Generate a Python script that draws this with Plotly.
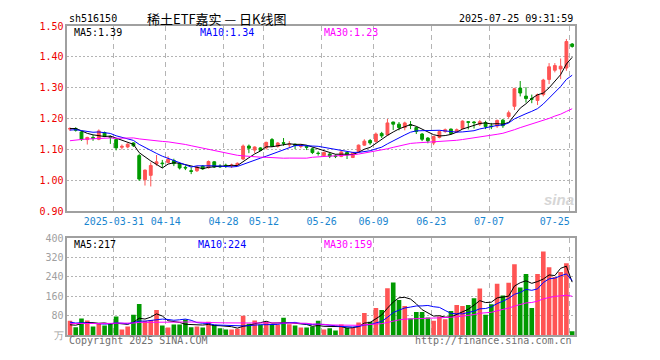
import plotly.graph_objects as go
import pandas as pd

# ---------------- data ----------------
tick_index = [8, 17, 27, 34, 44, 53, 63, 73, 87]
tick_labels = ["2025-03-31", "04-14", "04-28", "05-12", "05-26", "06-09", "06-23", "07-07",
               "07-25" + "\u00a0" * 5]

opens = [1.166, 1.168, 1.157, 1.132, 1.139, 1.133, 1.155, 1.142, 1.132, 1.107,
         1.108, 1.121, 1.080, 1.002, 1.016, 1.053, 1.056, 1.058, 1.064, 1.054,
         1.042, 1.031, 1.031, 1.046, 1.041, 1.060, 1.046, 1.049, 1.047, 1.050,
         1.069, 1.111, 1.098, 1.105, 1.105, 1.132, 1.110, 1.122, 1.115, 1.117,
         1.110, 1.110, 1.102, 1.088, 1.080, 1.085, 1.079, 1.077, 1.090, 1.074,
         1.093, 1.114, 1.129, 1.126, 1.152, 1.147, 1.189, 1.182, 1.171, 1.180,
         1.171, 1.150, 1.137, 1.121, 1.139, 1.158, 1.166, 1.157, 1.168, 1.190,
         1.189, 1.182, 1.187, 1.176, 1.176, 1.195, 1.207, 1.240, 1.299, 1.273,
         1.265, 1.259, 1.278, 1.327, 1.357, 1.361, 1.364, 1.442]
highs = [1.172, 1.172, 1.160, 1.141, 1.147, 1.165, 1.158, 1.145, 1.134, 1.116,
         1.120, 1.123, 1.085, 1.035, 1.058, 1.082, 1.066, 1.078, 1.070, 1.056,
         1.048, 1.042, 1.045, 1.049, 1.064, 1.062, 1.052, 1.054, 1.054, 1.058,
         1.116, 1.116, 1.110, 1.107, 1.125, 1.137, 1.124, 1.137, 1.127, 1.119,
         1.118, 1.114, 1.106, 1.094, 1.093, 1.088, 1.084, 1.095, 1.093, 1.092,
         1.116, 1.133, 1.134, 1.155, 1.157, 1.199, 1.190, 1.189, 1.190, 1.192,
         1.174, 1.153, 1.140, 1.144, 1.162, 1.168, 1.168, 1.168, 1.194, 1.192,
         1.192, 1.196, 1.193, 1.186, 1.197, 1.199, 1.226, 1.300, 1.322, 1.302,
         1.278, 1.281, 1.329, 1.380, 1.380, 1.395, 1.458, 1.445]
lows = [1.160, 1.158, 1.128, 1.116, 1.128, 1.130, 1.140, 1.118, 1.097, 1.100,
        1.104, 1.108, 0.998, 0.983, 0.980, 1.047, 1.040, 1.055, 1.046, 1.035,
        1.033, 1.020, 1.027, 1.034, 1.038, 1.040, 1.040, 1.040, 1.040, 1.047,
        1.066, 1.088, 1.088, 1.095, 1.100, 1.108, 1.106, 1.112, 1.106, 1.101,
        1.104, 1.098, 1.085, 1.080, 1.078, 1.072, 1.072, 1.075, 1.069, 1.072,
        1.090, 1.112, 1.115, 1.122, 1.137, 1.145, 1.163, 1.162, 1.162, 1.166,
        1.150, 1.127, 1.120, 1.114, 1.136, 1.154, 1.148, 1.155, 1.165, 1.165,
        1.168, 1.176, 1.166, 1.166, 1.170, 1.170, 1.200, 1.228, 1.272, 1.252,
        1.250, 1.244, 1.272, 1.312, 1.350, 1.328, 1.355, 1.430]
closes = [1.168, 1.162, 1.132, 1.139, 1.136, 1.160, 1.143, 1.139, 1.105, 1.110,
          1.117, 1.112, 1.004, 1.033, 1.048, 1.060, 1.054, 1.068, 1.054, 1.040,
          1.040, 1.029, 1.043, 1.037, 1.061, 1.043, 1.044, 1.047, 1.049, 1.055,
          1.111, 1.104, 1.108, 1.097, 1.123, 1.111, 1.121, 1.120, 1.117, 1.113,
          1.112, 1.107, 1.090, 1.087, 1.090, 1.078, 1.077, 1.092, 1.082, 1.089,
          1.114, 1.127, 1.121, 1.150, 1.144, 1.186, 1.182, 1.171, 1.186, 1.178,
          1.158, 1.133, 1.128, 1.142, 1.158, 1.164, 1.152, 1.164, 1.192, 1.188,
          1.187, 1.190, 1.174, 1.174, 1.194, 1.177, 1.219, 1.297, 1.283, 1.265,
          1.263, 1.278, 1.325, 1.368, 1.372, 1.370, 1.450, 1.434]
volumes = [60, 33, 69, 61, 36, 47, 40, 47, 77, 24,
           36, 84, 129, 60, 63, 104, 40, 32, 44, 44,
           65, 33, 36, 32, 56, 43, 29, 24, 24, 27,
           80, 47, 61, 43, 56, 43, 43, 72, 45, 40,
           32, 32, 36, 60, 24, 29, 20, 44, 31, 31,
           52, 92, 56, 112, 104, 193, 217, 145, 120, 69,
           96, 96, 73, 60, 77, 66, 100, 124, 120, 124,
           152, 192, 84, 128, 212, 164, 216, 292, 196, 252,
           112, 252, 344, 280, 240, 260, 296, 16]
# estimated closes / volumes of the 29 sessions before the window (feed the moving averages)
pre_closes = [1.08, 1.09, 1.10, 1.11, 1.12, 1.11, 1.13, 1.14,
              1.11, 1.10, 1.09, 1.10, 1.11, 1.12, 1.11, 1.10, 1.11, 1.12, 1.13, 1.14,
              1.15, 1.16, 1.17, 1.16, 1.15, 1.16, 1.17, 1.18, 1.16]
pre_volumes = [40, 52, 38, 47, 55, 43, 36, 50, 44, 48, 39, 46, 53, 41, 45, 49, 42, 44, 50, 38,
               70, 58, 72, 60, 65, 42, 35, 40, 38]

header_code = "sh516150"
header_title = "稀土ETF嘉实 — 日K线图"
header_time = "2025-07-25 09:31:59"
price_ma_texts = ["MA5:1.39", "MA10:1.34", "MA30:1.23"]
vol_ma_texts = ["MA5:217", "MA10:224", "MA30:159"]

# ---------------- derived ----------------
n = len(closes)
idx = list(range(n))
npre = len(pre_closes)
cs = pd.Series(pre_closes + closes)
vs = pd.Series(pre_volumes + volumes)
def ma(s, k):
    return s.rolling(k).mean().iloc[npre:].tolist()

RED = "#ff5454"
GREEN = "#009a00"
MA_COLORS = ["#000000", "#0000ff", "#ff00ff"]
MONO = "DejaVu Sans Mono"
W, H = 660, 360
def fx(x): return x / W
def fy(y): return 1 - y / H

xdom = [fx(70), fx(597.7)]
xrange_ = [-0.45, 87.5]

fig = go.Figure()
fig.add_trace(go.Candlestick(
    x=idx, open=opens, high=highs, low=lows, close=closes,
    increasing=dict(line=dict(color=RED, width=1), fillcolor=RED),
    decreasing=dict(line=dict(color=GREEN, width=1), fillcolor=GREEN),
    whiskerwidth=0, xaxis="x", yaxis="y", hoverinfo="skip"))
for k, c in zip([5, 10, 30], MA_COLORS):
    fig.add_trace(go.Scatter(x=idx, y=ma(cs, k), mode="lines",
                             line=dict(color=c, width=1), xaxis="x", yaxis="y",
                             hoverinfo="skip"))

vcolors = [RED if c >= o else GREEN for o, c in zip(opens, closes)]
fig.add_trace(go.Bar(x=idx, y=volumes, marker=dict(color=vcolors, line=dict(width=0)),
                     width=0.8, xaxis="x2", yaxis="y2", hoverinfo="skip"))
for k, c in zip([5, 10, 30], MA_COLORS):
    fig.add_trace(go.Scatter(x=idx, y=ma(vs, k), mode="lines",
                             line=dict(color=c, width=1), xaxis="x2", yaxis="y2",
                             hoverinfo="skip"))

tickpos = [t - 0.4 for t in tick_index]
common_x = dict(domain=xdom, range=xrange_, tickmode="array", tickvals=tickpos,
                showgrid=True, gridcolor="#b4b4b4", gridwidth=1, griddash="5px,4px",
                showline=True, mirror=True, linecolor="#a0a0a0", linewidth=1.5,
                ticks="", zeroline=False, fixedrange=True)
price_ticks = [0.9, 1.0, 1.1, 1.2, 1.3, 1.4, 1.5]
vol_ticks = [0, 80, 160, 240, 320, 400]

fig.update_layout(
    width=W, height=H, margin=dict(l=0, r=0, t=0, b=0),
    paper_bgcolor="white", plot_bgcolor="white", showlegend=False,
    xaxis=dict(**common_x, anchor="y", ticktext=tick_labels,
               tickfont=dict(family=MONO, size=10, color="#1a86d0"),
               rangeslider=dict(visible=False)),
    xaxis2=dict(**common_x, anchor="y2", showticklabels=False),
    yaxis=dict(domain=[fy(212.2), fy(20.8)], range=[0.9, 1.5], anchor="x",
               tickmode="array", tickvals=price_ticks,
               ticktext=[f"{v:.2f}" for v in price_ticks],
               tickfont=dict(family=MONO, size=10, color="#ee0000"),
               showgrid=True, gridcolor="#b4b4b4", griddash="2px,2px",
               showline=True, mirror=True, linecolor="#a0a0a0", linewidth=1.5,
               ticks="", zeroline=False, fixedrange=True),
    yaxis2=dict(domain=[fy(340.6), fy(240)], range=[0, 400], anchor="x2",
                tickmode="array", tickvals=vol_ticks,
                ticktext=["万"] + [str(v) for v in vol_ticks[1:]],
                tickfont=dict(family=MONO, size=10, color="#a0a0a0"),
                showgrid=True, gridcolor="#b4b4b4", griddash="2px,2px",
                showline=True, mirror=True, linecolor="#a0a0a0", linewidth=1.5,
                ticks="", zeroline=False, fixedrange=True),
)

def note(text, x, y, color="#000000", size=10, family=MONO, anchor="left"):
    fig.add_annotation(text=text, x=fx(x), y=fy(y), xref="paper", yref="paper",
                       xanchor=anchor, yanchor="middle", showarrow=False,
                       font=dict(family=family, size=size, color=color))

note(header_code, 70, 13)
note(header_title, 151, 13, size=13, family="Noto Sans CJK SC")
note(header_time, 598, 13, anchor="right")
for t, x, c in zip(price_ma_texts, [75, 206, 335], MA_COLORS):
    note(t, x, 27, color=c)
for t, x, c in zip(vol_ma_texts, [75, 204, 335], MA_COLORS):
    note(t, x, 247, color=c)
note("Copyright 2025 SINA.COM", 70, 346, color="#707070")
note("http://finance.sina.com.cn", 597, 346, color="#707070", anchor="right")
note("<b><i>sina</i></b>", 581, 200, color="#d6d6d6", size=15, family="Liberation Sans", anchor="center")

fig.write_html("out.html", config={"displayModeBar": False},
               post_script="document.body.style.margin='0';document.body.style.overflow='hidden';")
